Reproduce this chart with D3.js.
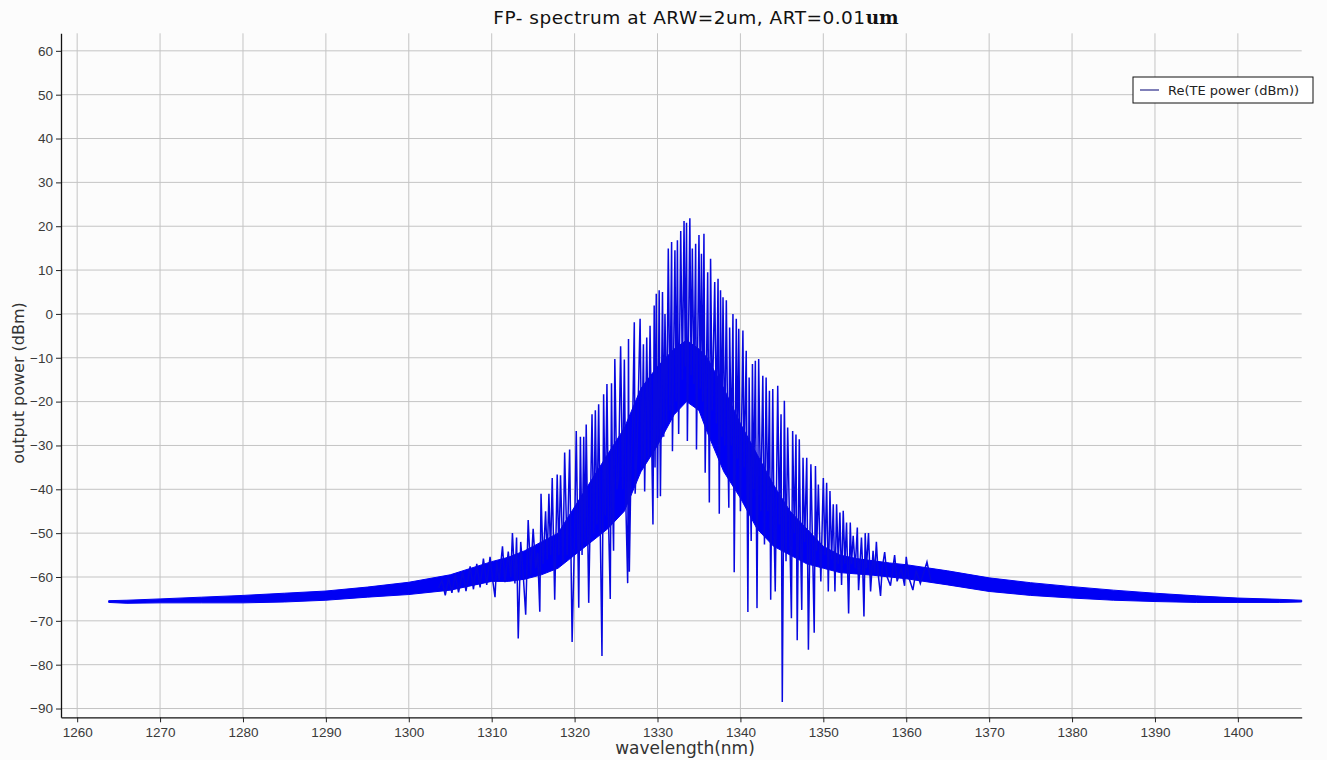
<!DOCTYPE html>
<html>
<head>
<meta charset="utf-8">
<script src="https://cdn.jsdelivr.net/npm/d3@7"></script>
<style>
  body { margin: 0; background: #fcfcfc; }
  svg { display: block; font-family: "DejaVu Sans", sans-serif; }
</style>
</head>
<body>
<div id="chart"></div>
<script>
// tick values
const xTicks = [1260, 1270, 1280, 1290, 1300, 1310, 1320, 1330, 1340, 1350, 1360, 1370, 1380, 1390, 1400];
const yTicks = [-90, -80, -70, -60, -50, -40, -30, -20, -10, 0, 10, 20, 30, 40, 50, 60];

// dense noise band of the spectrum (lower / upper edge, dBm)
const bandWl = [1263.8, 1266, 1270, 1275, 1280, 1285, 1290, 1295, 1300, 1305, 1310, 1312, 1314, 1316, 1318, 1320, 1322, 1324, 1326, 1328, 1330, 1332, 1333.5, 1335, 1336, 1338, 1340, 1342, 1344, 1346, 1348, 1350, 1352, 1354, 1356, 1358, 1360, 1365, 1370, 1375, 1380, 1385, 1390, 1395, 1400, 1405, 1407.7];
const bandLo = [-65.8, -66.0, -65.9, -65.9, -65.9, -65.7, -65.3, -64.6, -64.0, -63.0, -61.0, -61.0, -60.5, -59.5, -58.0, -55.0, -52.0, -49.0, -45.0, -36.0, -30.0, -23.0, -20.0, -22.0, -27.0, -36.0, -42.0, -49.0, -53.0, -55.0, -57.0, -58.0, -59.0, -59.3, -59.6, -60.0, -60.4, -61.8, -63.3, -64.2, -64.8, -65.3, -65.6, -65.8, -65.8, -65.8, -65.7];
const bandHi = [-65.4, -65.3, -65.0, -64.6, -64.2, -63.7, -63.2, -62.3, -61.2, -59.5, -56.5, -55.5, -54.0, -52.0, -50.0, -44.0, -38.0, -32.0, -26.0, -17.0, -12.0, -8.0, -6.0, -8.0, -10.0, -17.0, -25.0, -32.0, -39.0, -45.0, -49.0, -53.0, -55.0, -55.8, -56.3, -56.8, -57.2, -58.6, -60.2, -61.3, -62.2, -63.0, -63.7, -64.3, -64.8, -65.1, -65.3];

// FP mode spikes around the gain peak
const spikeWl = [1303.6, 1304.0, 1304.4, 1304.8, 1305.2, 1305.6, 1306.0, 1306.5, 1306.9, 1307.4, 1307.8, 1308.2, 1308.6, 1309.0, 1309.4, 1309.8, 1310.1, 1310.4, 1310.6, 1310.9,
  1311.3, 1311.6, 1312.0, 1312.3, 1312.5, 1312.8, 1313.0, 1313.2, 1313.5, 1313.8, 1314.1, 1314.4, 1314.7, 1315.0, 1315.3, 1315.55, 1315.8, 1315.95, 1316.2, 1316.5,
  1316.7, 1316.9, 1317.1, 1317.3, 1317.6, 1317.9, 1318.1, 1318.3, 1318.6, 1318.8, 1319.1, 1319.4, 1319.7, 1320.0, 1320.2, 1320.5, 1320.7, 1320.9, 1321.1, 1321.25,
  1321.4, 1321.7, 1322.1, 1322.3, 1322.5, 1322.7, 1322.9, 1323.1, 1323.3, 1323.5, 1323.7, 1323.9, 1324.1, 1324.3, 1324.45, 1324.6, 1324.7, 1324.85, 1325.1, 1325.3,
  1325.55, 1325.8, 1326.0, 1326.2, 1326.4, 1326.5, 1326.6, 1326.8, 1327.0, 1327.2, 1327.3, 1327.55, 1327.9, 1328.1, 1328.3, 1328.45, 1328.7, 1328.9, 1329.1, 1329.3,
  1329.45, 1329.6, 1329.7, 1329.85, 1330.0, 1330.2, 1330.35, 1330.6, 1330.75, 1330.9, 1331.1, 1331.3, 1331.5, 1331.7, 1331.8, 1332.1, 1332.25, 1332.4, 1332.55, 1332.8,
  1333.0, 1333.2, 1333.35, 1333.5, 1333.6, 1333.9, 1334.05, 1334.2, 1334.4, 1334.6, 1334.7, 1335.0, 1335.15, 1335.3, 1335.45, 1335.6, 1335.75, 1336.05, 1336.25, 1336.4,
  1336.6, 1336.9, 1337.1, 1337.3, 1337.45, 1337.6, 1337.75, 1337.9, 1338.1, 1338.3, 1338.5, 1338.6, 1338.7, 1338.9, 1339.1, 1339.25, 1339.5, 1339.65, 1339.8, 1340.0,
  1340.3, 1340.45, 1340.7, 1340.9, 1341.05, 1341.2, 1341.3, 1341.45, 1341.6, 1341.8, 1342.0, 1342.2, 1342.45, 1342.7, 1342.9, 1343.1, 1343.3, 1343.5, 1343.65, 1343.9,
  1344.05, 1344.2, 1344.5, 1344.7, 1344.9, 1345.05, 1345.3, 1345.5, 1345.7, 1345.95, 1346.15, 1346.3, 1346.5, 1346.7, 1346.85, 1347.1, 1347.25, 1347.4, 1347.55, 1347.75,
  1348.0, 1348.2, 1348.5, 1348.7, 1348.9, 1349.05, 1349.2, 1349.4, 1349.7, 1350.0, 1350.2, 1350.4, 1350.6, 1350.8, 1351.0, 1351.2, 1351.4, 1351.6, 1351.8, 1352.0,
  1352.2, 1352.4, 1352.6, 1352.8, 1353.05, 1353.25, 1353.4, 1353.6, 1353.85, 1354.1, 1354.25, 1354.6, 1354.75, 1354.9, 1355.05, 1355.2, 1355.45, 1355.7, 1356.0, 1356.2,
  1356.4, 1356.6, 1356.9, 1357.1, 1357.4, 1357.7, 1358.1, 1358.6, 1358.9, 1359.4, 1359.8, 1360.0, 1360.3, 1360.8, 1361.2, 1361.7, 1362.5, 1363.0];
const spikeDb = [-62.5, -60.8, -64.2, -60.2, -63.6, -59.4, -63.5, -58.8, -63.2, -57.6, -62.8, -57.0, -62.4, -55.8, -61.8, -55.4, -60.5, -64.6, -56.5, -60.8,
  -53.0, -61.2, -54.2, -60.0, -50.0, -61.5, -51.0, -74.0, -52.0, -59.5, -68.6, -47.0, -59.5, -49.0, -58.0, -54.5, -67.9, -41.0, -57.0, -45.0,
  -56.0, -41.0, -55.0, -37.4, -65.2, -36.6, -55.0, -36.8, -57.0, -31.6, -55.0, -30.9, -74.8, -50.0, -26.7, -67.0, -28.0, -55.0, -28.0, -52.0,
  -25.2, -65.9, -22.9, -50.0, -22.0, -48.0, -20.6, -50.0, -78.0, -18.3, -46.0, -16.0, -48.0, -65.0, -15.8, -44.0, -54.0, -10.3, -40.0, -37.0,
  -7.4, -40.0, -10.4, -45.0, -61.4, -5.7, -58.8, -35.0, -25.0, -1.9, -41.0, -30.0, -1.1, -35.0, -6.9, -40.5, -5.4, -33.0, -2.7, -30.0,
  -48.0, 1.9, -35.0, 4.6, -42.0, 5.4, -41.6, 5.0, -28.0, 0.0, -25.0, 14.9, -22.0, 16.4, -31.3, 14.5, -20.0, 16.8, -27.4, 18.9,
  -15.0, 21.2, -12.0, 20.8, -29.0, 21.8, -14.0, 14.9, -16.0, 16.0, -30.9, 18.0, -17.0, 13.7, -20.0, 18.3, -36.2, 9.5, -43.0, 12.6,
  -22.0, 7.3, -25.0, 8.0, -45.6, 5.4, -28.0, 3.8, -30.0, 3.1, -32.0, -44.2, -3.1, -30.0, 0.0, -58.9, -1.1, -33.0, -3.4, -45.0,
  -3.8, -35.0, -8.4, -68.0, -14.5, -40.0, -51.8, -11.4, -40.0, -10.7, -67.1, -10.3, -45.0, -14.1, -52.6, -14.5, -45.0, -17.5, -65.2, -17.1,
  -48.0, -63.3, -16.4, -48.0, -22.9, -88.5, -19.8, -56.4, -25.9, -50.0, -69.4, -26.7, -50.0, -27.5, -74.4, -28.6, -52.0, -67.5, -32.8, -52.0,
  -32.8, -76.6, -34.3, -53.0, -72.7, -34.7, -54.0, -38.9, -61.0, -37.4, -55.0, -38.5, -63.3, -40.4, -56.0, -43.4, -63.3, -43.4, -57.0, -45.3,
  -61.8, -44.9, -57.0, -47.6, -68.3, -47.6, -57.0, -50.6, -58.0, -48.7, -63.0, -51.0, -58.0, -69.0, -50.0, -58.0, -50.0, -63.3, -54.0, -59.0,
  -52.0, -59.0, -64.3, -58.0, -54.3, -60.0, -62.0, -55.0, -61.0, -58.0, -62.0, -55.4, -60.0, -63.0, -58.5, -61.5, -56.6, -61.0];

const legendLabel = "Re(TE power (dBm))";
const lineColor = "#0808e0";

const width = 1327, height = 760;
const plot = {left: 61, right: 1301.7, top: 33.3, bottom: 717.3};

const svg = d3.select("#chart").append("svg")
  .attr("width", width).attr("height", height);

const x = d3.scaleLinear().domain([1258.05, 1407.7]).range([plot.left, plot.right]);
const y = d3.scaleLinear().domain([-92, 64]).range([plot.bottom, plot.top]);

// grid
svg.append("g").selectAll("line").data(xTicks).join("line")
  .attr("x1", d => x(d)).attr("x2", d => x(d))
  .attr("y1", plot.top).attr("y2", plot.bottom)
  .attr("stroke", "#c4c4c4").attr("stroke-width", 1);
svg.append("g").selectAll("line").data(yTicks).join("line")
  .attr("x1", plot.left).attr("x2", plot.right)
  .attr("y1", d => y(d)).attr("y2", d => y(d))
  .attr("stroke", "#c4c4c4").attr("stroke-width", 1);

// data
const band = bandWl.map((w, i) => ({w, lo: bandLo[i], hi: bandHi[i]}));
const spikes = spikeWl.map((w, i) => ({w, v: spikeDb[i]}));

svg.append("path")
  .datum(band)
  .attr("fill", "#0000f4")
  .attr("stroke", "#0000f4")
  .attr("stroke-width", 1)
  .attr("d", d3.area().x(d => x(d.w)).y0(d => y(d.lo)).y1(d => y(d.hi)));

svg.append("path")
  .datum(spikes)
  .attr("fill", "none")
  .attr("stroke", lineColor)
  .attr("stroke-width", 1.5)
  .attr("stroke-linejoin", "miter")
  .attr("d", d3.line().x(d => x(d.w)).y(d => y(d.v)));

// axes
const xAxis = svg.append("g")
  .attr("transform", `translate(0,${plot.bottom})`)
  .call(d3.axisBottom(x).tickValues(xTicks).tickSize(5).tickSizeOuter(0).tickFormat(d3.format("d")));
const yAxis = svg.append("g")
  .attr("transform", `translate(${plot.left},0)`)
  .call(d3.axisLeft(y).tickValues(yTicks).tickSize(5).tickSizeOuter(0).tickFormat(d3.format("d")));

[xAxis, yAxis].forEach(g => {
  g.select(".domain").attr("stroke", "#111").attr("stroke-width", 1.3);
  g.selectAll(".tick line").attr("stroke", "#222");
  g.selectAll(".tick text")
    .attr("fill", "#3a3a3a")
    .style("font-family", "'Liberation Sans', sans-serif")
    .style("font-size", "13.5px");
});
xAxis.selectAll(".tick text").attr("dy", "0.9em");

// title
const title = svg.append("text")
  .attr("x", 696).attr("y", 24)
  .attr("text-anchor", "middle")
  .attr("fill", "#111")
  .style("font-size", "18.5px")
  .style("letter-spacing", "0.5px");
title.append("tspan").text("FP- spectrum at ARW=2um, ART=0.01");
title.append("tspan")
  .style("font-family", "'DejaVu Serif', serif")
  .style("font-weight", "bold")
  .style("letter-spacing", "0px")
  .text("um");

// axis labels
svg.append("text")
  .attr("x", 685).attr("y", 754)
  .attr("text-anchor", "middle")
  .attr("fill", "#333")
  .style("font-size", "17px")
  .text("wavelength(nm)");
svg.append("text")
  .attr("transform", "translate(24,383) rotate(-90)")
  .attr("text-anchor", "middle")
  .attr("fill", "#333")
  .style("font-size", "16px")
  .text("output power (dBm)");

// legend
const legend = svg.append("g").attr("transform", "translate(1133,77)");
legend.append("rect")
  .attr("width", 180).attr("height", 26)
  .attr("fill", "#fff").attr("stroke", "#111").attr("stroke-width", 1);
legend.append("line")
  .attr("x1", 7).attr("x2", 26).attr("y1", 13).attr("y2", 13)
  .attr("stroke", "#2a2a8a").attr("stroke-width", 1.2);
legend.append("text")
  .attr("x", 35).attr("y", 18)
  .attr("fill", "#222")
  .style("font-size", "13px")
  .text(legendLabel);
</script>
</body>
</html>
